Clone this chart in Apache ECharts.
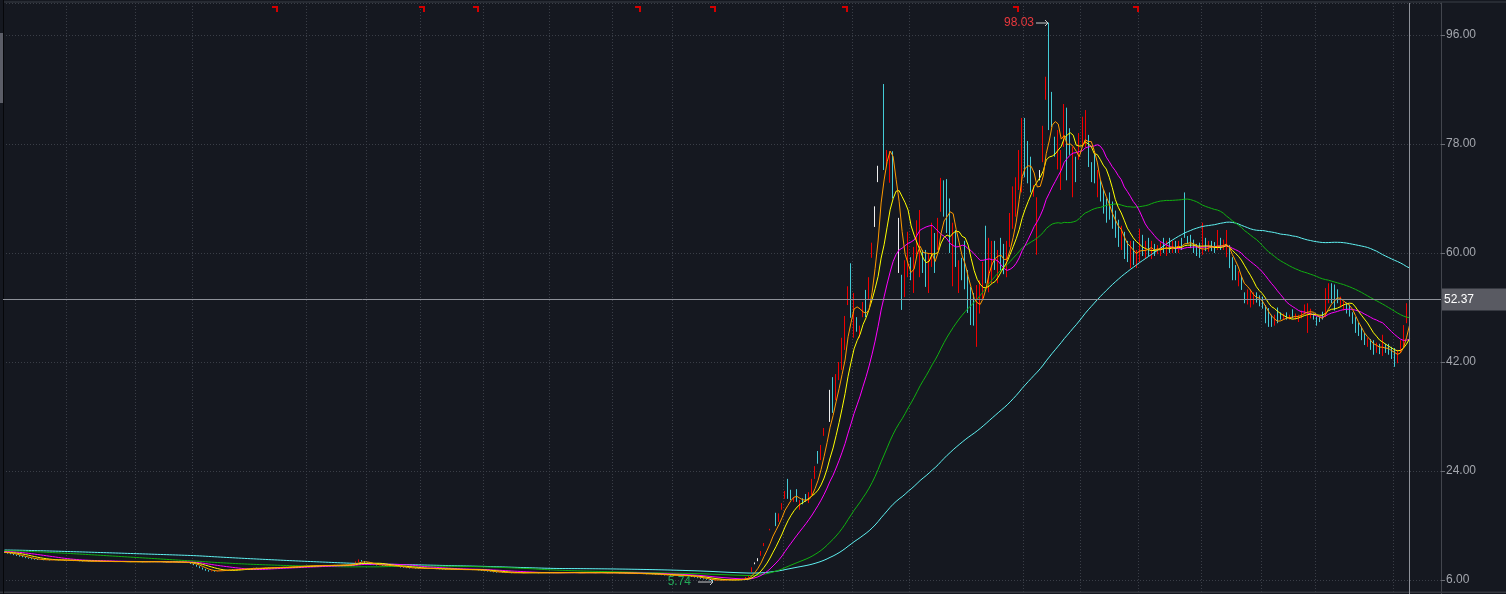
<!DOCTYPE html>
<html><head><meta charset="utf-8">
<script src="https://cdn.jsdelivr.net/npm/echarts@6/dist/echarts.min.js"></script>
<style>html,body{margin:0;padding:0;background:#151820;overflow:hidden;}#c{width:1506px;height:594px;}</style>
</head><body><div id="c"></div>
<script>
// ---- data: [open, close, low, high] ----
const flatPhase = [
[10.65,10.55,10.48,10.72],[10.55,10.40,10.35,10.60],[10.42,10.30,10.25,10.48],[10.30,10.15,10.10,10.36],[10.12,10.05,9.98,10.20],
[10.05,9.90,9.85,10.10],[9.92,9.80,9.75,9.98],[9.80,9.65,9.60,9.85],[9.66,9.55,9.50,9.70],[9.55,9.45,9.40,9.60],
[9.45,9.40,9.35,9.50],[9.40,9.35,9.30,9.45],[9.34,9.38,9.30,9.42],[9.38,9.30,9.26,9.40],[9.30,9.32,9.27,9.36],
[9.32,9.28,9.24,9.35],[9.28,9.35,9.25,9.38],[9.35,9.30,9.27,9.37],[9.30,9.25,9.22,9.33],[9.25,9.28,9.22,9.31],
[9.28,9.22,9.19,9.30],[9.22,9.25,9.20,9.28],[9.25,9.20,9.17,9.27],[9.20,9.15,9.12,9.22],[9.15,9.18,9.13,9.21],
[9.18,9.12,9.09,9.20],[9.12,9.10,9.06,9.15],[9.10,9.15,9.08,9.17],[9.15,9.08,9.05,9.16],[9.08,9.05,9.02,9.10],
[9.05,9.10,9.03,9.12],[9.10,9.12,9.07,9.15],[9.12,9.06,9.03,9.14],[9.06,9.02,8.99,9.08],[9.02,9.05,9.00,9.08],
[9.05,9.08,9.03,9.11],[9.08,9.03,9.00,9.10],[9.03,9.00,8.97,9.05],[9.00,9.04,8.98,9.07],[9.04,9.06,9.01,9.09],
[9.06,9.02,8.99,9.08],[9.02,9.00,8.96,9.04],[9.00,8.98,8.95,9.03],[8.98,9.02,8.96,9.05],[9.02,9.05,9.00,9.08],
[9.05,9.00,8.97,9.07],[9.00,8.96,8.93,9.02],[8.96,9.00,8.94,9.03],[9.00,9.04,8.98,9.07],[9.04,9.08,9.02,9.12],
[9.08,9.02,9.00,9.10],[9.02,8.98,8.95,9.04],[8.98,9.00,8.96,9.03],[9.00,8.95,8.92,9.02],[8.95,8.92,8.89,8.97],
[8.92,8.96,8.90,8.99],[8.96,9.00,8.94,9.03],[9.00,8.95,8.92,9.02],[8.95,8.90,8.87,8.97],[8.90,8.93,8.88,8.96],
[8.93,8.88,8.85,8.95],[8.88,8.85,8.80,8.90],[8.85,8.70,8.65,8.88],[8.70,8.50,8.45,8.72],[8.50,8.25,8.20,8.52],
[8.25,8.00,7.95,8.28],[8.00,7.80,7.72,8.05],[7.80,7.60,7.52,7.84],[7.60,7.45,7.38,7.64],[7.45,7.50,7.40,7.56],
[7.50,7.42,7.36,7.54],[7.42,7.55,7.40,7.58],[7.55,7.65,7.52,7.68],[7.65,7.60,7.56,7.68],[7.60,7.70,7.58,7.73],
[7.70,7.75,7.66,7.78],[7.75,7.68,7.64,7.77],[7.68,7.72,7.65,7.75],[7.72,7.80,7.70,7.83],[7.80,7.85,7.77,7.88],
[7.85,7.90,7.82,7.93],[7.90,7.88,7.84,7.93],[7.88,7.95,7.85,7.98],[7.95,8.00,7.92,8.04],[8.00,7.96,7.92,8.03],
[7.96,7.92,7.88,7.98],[7.92,8.00,7.90,8.03],[8.00,8.05,7.97,8.09],[8.05,8.02,7.98,8.07],[8.02,8.08,8.00,8.11],
[8.08,8.10,8.05,8.14],[8.10,8.05,8.02,8.12],[8.05,8.12,8.03,8.15],[8.12,8.15,8.09,8.19],[8.15,8.10,8.07,8.17],
[8.10,8.18,8.08,8.21],[8.18,8.20,8.15,8.24],[8.20,8.25,8.17,8.28],[8.25,8.30,8.22,8.33],[8.30,8.28,8.24,8.33],
[8.28,8.35,8.26,8.38],[8.35,8.32,8.28,8.37],[8.32,8.38,8.30,8.41],[8.38,8.40,8.35,8.44],[8.40,8.36,8.32,8.42],
[8.36,8.42,8.34,8.45],[8.42,8.45,8.39,8.48],[8.45,8.40,8.37,8.47],[8.40,8.38,8.34,8.43],[8.38,8.44,8.36,8.47],
[8.44,8.48,8.41,8.52],[8.48,8.42,8.39,8.50],[8.42,8.46,8.40,8.49],[8.46,8.50,8.43,8.54],[8.50,8.48,8.44,8.53],
[8.48,8.55,8.46,8.60],[8.55,8.75,8.52,8.82],[8.75,9.00,8.70,9.08],[9.00,9.25,8.95,9.40],[9.25,9.10,9.02,9.30],
[9.10,8.85,8.80,9.12],[8.85,8.65,8.60,8.88],[8.65,8.55,8.50,8.68],[8.55,8.50,8.46,8.58],[8.50,8.45,8.41,8.53],
[8.45,8.48,8.42,8.51],[8.48,8.40,8.37,8.50],[8.40,8.35,8.31,8.42],[8.35,8.38,8.32,8.41],[8.38,8.30,8.27,8.40],
[8.30,8.25,8.21,8.32],[8.25,8.20,8.16,8.27],[8.20,8.10,8.06,8.22],[8.10,8.05,8.01,8.12],[8.05,8.00,7.96,8.07],
[8.00,7.95,7.91,8.02],[7.95,7.98,7.92,8.01],[7.98,7.92,7.89,8.00],[7.92,7.90,7.86,7.95],[7.90,7.95,7.88,7.98],
[7.95,7.88,7.85,7.97],[7.88,7.85,7.81,7.90],[7.85,7.90,7.83,7.93],[7.90,7.86,7.83,7.92],[7.86,7.82,7.79,7.88],
[7.82,7.80,7.76,7.85],[7.80,7.78,7.74,7.83],[7.78,7.75,7.71,7.80],[7.75,7.80,7.73,7.83],[7.80,7.76,7.73,7.82],
[7.76,7.72,7.69,7.78],[7.72,7.70,7.66,7.75],[7.70,7.74,7.68,7.77],[7.74,7.68,7.65,7.76],[7.68,7.72,7.66,7.75],
[7.72,7.70,7.67,7.74],[7.70,7.66,7.63,7.72],[7.66,7.68,7.63,7.71],[7.68,7.62,7.58,7.70],[7.62,7.55,7.51,7.64],
[7.55,7.48,7.44,7.57],[7.48,7.42,7.38,7.50],[7.42,7.38,7.34,7.44],[7.38,7.30,7.26,7.40],[7.30,7.25,7.21,7.32],
[7.25,7.28,7.22,7.31],[7.28,7.22,7.19,7.30],[7.22,7.18,7.14,7.24],[7.18,7.20,7.15,7.23],[7.20,7.15,7.12,7.22],
[7.15,7.18,7.13,7.21],[7.18,7.22,7.16,7.25],[7.22,7.20,7.17,7.24],[7.20,7.16,7.13,7.22],[7.16,7.20,7.14,7.23],
[7.20,7.25,7.18,7.28],[7.25,7.22,7.19,7.27],[7.22,7.18,7.15,7.24],[7.18,7.14,7.11,7.20],[7.14,7.18,7.12,7.21],
[7.18,7.22,7.16,7.25],[7.22,7.26,7.20,7.29],[7.26,7.20,7.17,7.28],[7.20,7.16,7.13,7.22],[7.16,7.18,7.13,7.21],
[7.18,7.24,7.16,7.27],[7.24,7.28,7.22,7.31],[7.28,7.22,7.19,7.30],[7.22,7.18,7.15,7.24],[7.18,7.20,7.15,7.23],
[7.20,7.24,7.18,7.27],[7.24,7.20,7.17,7.26],[7.20,7.16,7.13,7.22],[7.16,7.18,7.13,7.21],[7.18,7.22,7.16,7.25],
[7.22,7.26,7.20,7.30],[7.26,7.20,7.17,7.28],[7.20,7.16,7.13,7.22],[7.16,7.20,7.14,7.23],[7.20,7.24,7.18,7.27],
[7.24,7.18,7.15,7.26],[7.18,7.14,7.11,7.20],[7.14,7.18,7.12,7.21],[7.18,7.22,7.16,7.25],[7.22,7.16,7.13,7.24],
[7.16,7.12,7.09,7.18],[7.12,7.15,7.10,7.18],[7.15,7.10,7.07,7.17],[7.10,7.08,7.04,7.12],[7.08,7.12,7.06,7.15],
[7.12,7.06,7.03,7.14],[7.06,7.02,6.98,7.08],[7.02,7.05,7.00,7.08],[7.05,7.00,6.97,7.07],[7.00,6.98,6.94,7.02],
[6.98,7.02,6.96,7.05],[7.02,6.96,6.93,7.04],[6.96,6.92,6.88,6.98],[6.92,6.88,6.84,6.94],[6.88,6.84,6.80,6.90],
[6.84,6.80,6.76,6.86],[6.80,6.82,6.77,6.85],[6.82,6.76,6.72,6.84],[6.76,6.72,6.68,6.78],[6.72,6.75,6.70,6.78],
[6.75,6.70,6.66,6.77],[6.70,6.66,6.62,6.72],[6.66,6.68,6.63,6.71],[6.68,6.62,6.58,6.70],[6.62,6.55,6.50,6.64],
[6.55,6.45,6.40,6.57],[6.45,6.35,6.30,6.47],[6.35,6.25,6.20,6.37],[6.25,6.15,6.10,6.27],[6.15,6.08,6.03,6.17],
[6.08,5.98,5.93,6.10],[5.98,5.90,5.74,6.00],[5.90,6.00,5.87,6.04],[6.00,6.05,5.97,6.09],[6.05,5.98,5.95,6.07],
[5.98,6.02,5.95,6.05],[6.02,6.06,6.00,6.09],[6.06,6.00,5.97,6.08],[6.00,6.04,5.98,6.07],[6.04,6.10,6.02,6.13],
[6.10,6.08,6.05,6.14]
];
const rallyPhase = [
[6.08,6.20,6.05,6.25],[6.20,6.45,6.15,6.50],[6.45,6.70,6.40,6.75],[7.40,8.05,7.30,8.10],[8.90,8.90,8.60,8.90],
[9.60,9.60,9.10,9.60],[10.00,10.75,10.00,10.80],[11.60,12.05,11.60,12.10],[13.10,13.10,13.10,13.10],[14.20,14.40,14.20,14.45],
[15.90,15.90,15.90,15.90],[17.00,15.60,14.90,17.10],[15.70,16.90,15.60,17.00],[17.70,18.60,17.60,18.70],[19.50,20.60,19.40,20.70],
[21.80,20.00,19.40,22.70],[20.60,19.60,19.20,20.90],[19.00,19.60,18.90,19.70],[20.70,19.20,18.90,21.00],[17.90,19.00,17.60,19.20],
[19.40,18.80,18.50,19.50],[20.00,19.20,18.90,20.20],[18.90,20.30,18.70,20.50],[20.30,22.50,20.00,22.70],[22.80,24.70,22.70,24.80],
[27.00,25.60,25.20,27.30],[26.00,28.10,25.80,28.30],[29.90,31.00,29.80,31.10],[34.00,34.00,34.00,34.00],[37.40,37.40,32.10,37.40],
[39.40,35.20,33.60,39.50],[36.00,39.50,35.70,40.00],[39.20,41.80,39.00,42.00],[41.00,45.80,40.70,46.00],[44.50,49.40,44.00,49.60],
[51.50,54.30,51.40,54.50],[57.50,51.50,49.30,58.30],[47.50,52.80,46.00,53.40],[49.20,47.50,47.00,49.40],[46.20,47.80,46.00,48.00],
[49.60,51.70,49.40,51.90],[53.50,50.50,49.40,53.90],[52.50,55.80,52.20,56.00],[59.30,61.50,59.20,61.70],[67.70,67.70,64.30,67.70],
[74.40,74.40,71.70,74.40],[81.90,81.90,81.90,81.90],[84.00,74.80,73.70,87.90]
];
const peakPhase = [
[75.0,76.5,74.5,77.0],[72.0,76.5,71.6,76.8],[76.5,70.0,69.0,76.8],[63.0,63.0,63.0,63.0],[56.7,56.7,56.7,65.8],
[56.0,51.5,50.6,56.4],[53.0,57.8,52.7,58.8],[58.0,62.0,56.0,63.5],[59.0,56.0,55.5,59.3],[54.0,59.5,53.4,61.0],
[60.0,63.5,59.3,65.4],[58.0,64.5,56.0,67.1],[60.0,57.0,56.7,60.5],[59.5,55.5,54.4,60.5],[54.5,59.0,53.4,60.0],
[59.0,63.5,57.7,65.0],[63.0,58.0,56.7,63.3],[61.0,64.5,60.5,65.8],[67.5,71.5,66.8,72.4],[71.5,69.0,66.0,72.0],
[71.0,67.0,63.3,72.2],[68.0,62.0,60.0,69.0],[58.0,63.0,54.5,65.0],[62.0,58.5,57.7,63.8],[55.0,58.0,53.4,58.8],
[58.5,56.0,55.5,59.2],[60.0,55.5,54.0,62.0],[56.5,52.5,50.1,57.2],[53.0,49.5,48.1,54.4],[52.0,49.0,48.0,53.4],
[47.5,52.5,44.5,54.7],[51.0,54.0,50.0,55.5],[53.0,57.5,52.2,58.5],[63.0,58.0,55.0,64.5],[56.0,61.0,53.5,62.5],
[57.0,60.5,55.0,62.0],[61.0,58.5,57.2,62.0],[56.5,59.5,55.0,60.5],[61.5,58.5,57.0,62.5],[60.5,57.5,56.5,61.5],
[57.0,61.0,56.0,62.0],[62.0,66.0,61.0,66.6],[65.5,70.0,64.0,71.0],[67.0,71.0,66.0,72.5],[71.0,76.0,70.4,77.0],
[74.0,80.0,70.0,82.3],[82.0,73.0,72.5,82.3],[77.0,72.0,71.5,78.5],[74.0,70.5,70.0,75.9],[69.5,70.5,69.3,71.2],
[62.0,68.5,59.7,69.2],[73.5,73.5,72.0,73.7],[75.5,80.5,75.0,81.0],[85.5,89.0,85.3,89.1],[95.0,81.0,80.3,98.03],
[86.0,81.5,80.8,86.6],[79.0,76.5,75.9,79.2],[75.0,78.5,73.8,80.3],[71.0,76.5,70.4,77.0],[78.0,84.0,77.5,84.6],
[83.5,74.0,72.0,84.0],[80.0,77.0,76.2,80.6],[70.0,76.5,69.2,77.5],[75.5,72.5,71.7,75.9],[75.8,79.5,75.4,79.8],
[78.0,82.0,77.5,82.5],[78.0,83.0,77.5,83.6],[79.5,75.0,74.2,79.5],[74.5,72.5,71.7,75.0],[75.0,72.0,71.5,76.5],
[70.5,72.5,69.2,73.7],[71.0,69.0,68.5,72.0],[70.0,67.0,66.5,70.5],[68.5,66.0,65.0,69.0]
];
const declinePhase = [
[69.0,66.0,65.5,70.0],[67.0,65.0,64.0,68.5],[66.5,63.5,62.5,67.0],[64.5,62.0,61.0,65.5],[61.5,63.0,60.5,64.5],
[63.0,60.0,59.0,63.5],[61.0,59.5,58.5,62.0],[58.5,61.0,57.5,62.0],[61.5,59.0,58.0,62.0],[58.5,60.0,57.5,60.5],
[59.0,62.0,58.5,64.0],[62.0,60.0,59.5,63.0],[59.5,61.0,59.0,62.0],[61.5,60.0,59.5,62.5],[59.5,61.5,59.0,62.0],
[61.0,60.0,59.5,61.5],[60.2,60.8,59.8,61.3],[60.0,61.0,59.5,61.8],[61.5,60.5,60.0,62.5],[60.0,61.5,59.5,62.0],
[62.0,60.5,60.0,62.5],[60.5,61.5,60.0,62.0],[61.5,60.5,60.0,62.0],[60.5,61.5,60.0,62.0],[62.0,61.0,60.5,62.5],
[69.0,63.0,62.5,70.0],[62.5,61.8,61.5,62.8],[62.8,61.2,60.8,63.0],[61.8,60.6,60.0,62.2],[61.0,60.0,59.5,61.5],
[61.0,60.2,59.2,61.7],[60.0,61.5,59.7,65.0],[62.0,60.8,60.3,62.5],[60.5,61.5,60.2,62.0],[61.5,60.8,60.3,62.0],
[61.5,60.5,60.0,61.8],[60.5,62.0,60.5,63.8],[62.0,61.0,60.5,62.5],[60.8,61.8,60.5,62.2],[61.0,62.0,59.3,63.8],
[61.0,58.0,57.5,61.3],[58.5,56.0,55.5,59.3],[57.5,56.0,55.5,58.0],[55.0,56.5,54.5,57.0],[56.0,54.5,53.9,56.2],
[53.5,52.0,51.7,53.5],[52.0,53.5,51.5,54.0],[52.5,53.0,51.0,54.0],[52.0,52.8,51.5,53.5],[53.0,52.0,51.8,53.5],
[52.5,51.5,51.2,53.0],[52.0,51.0,50.8,52.8],[51.2,49.0,48.4,51.4],[50.5,48.5,47.8,50.9],[49.5,48.2,47.8,49.8],
[48.2,49.0,48.0,49.8],[50.5,49.0,48.4,51.0],[49.8,49.2,49.0,50.2],[49.2,49.6,49.0,50.0],[49.8,49.3,49.0,50.2],
[49.2,49.5,49.0,49.8],[50.2,49.4,49.2,50.7],[49.2,49.8,49.0,50.0],[49.0,49.6,48.6,49.8],[49.2,50.2,49.2,50.5],
[50.0,51.0,49.8,51.5],[49.0,50.5,46.8,51.7],[49.5,50.2,49.2,50.8],[49.8,49.2,49.0,50.0],[49.2,48.5,48.0,49.5],
[49.2,48.8,48.6,49.5],[50.0,49.3,49.0,50.3],[49.5,53.0,49.4,54.2],[52.5,54.0,51.7,55.0],[54.5,52.5,51.7,55.0],
[54.0,51.5,50.5,54.8],[53.5,52.0,51.7,54.0],[51.5,52.5,51.0,52.8],[51.0,52.0,50.5,52.0],[51.8,50.5,50.0,51.8],
[51.0,49.8,49.5,51.5],[50.0,48.8,48.3,50.2],[49.2,47.3,46.8,49.4],[48.0,46.8,46.3,48.5],[47.5,46.0,45.6,47.8],
[46.5,45.2,44.8,46.8],[44.8,45.6,44.5,46.0],[45.5,44.5,44.0,45.8],[45.0,43.8,43.2,45.6],[43.8,44.8,43.5,45.2],
[44.5,43.6,43.3,45.0],[43.5,45.5,43.0,46.5],[44.8,43.8,43.5,45.0],[44.5,43.5,43.2,45.0],[44.0,43.0,42.5,44.5],
[43.5,42.2,41.2,44.3],[42.0,43.8,41.8,44.0],[43.8,45.0,43.5,45.6],[44.5,47.8,44.3,48.1],[48.5,51.2,48.4,51.7],
[56.0,52.37,51.9,56.5]
];
const maPeriods = [5, 10, 20, 60, 120];
const maColors = ['#ff9a00', '#ffff00', '#ff00ff', '#10b010', '#5ff2f2'];
// moving-average levels read at the left edge of the chart (history before the first visible candle)
const maLeftEdge = [10.55, 10.6, 10.7, 10.85, 10.95];
const yTickValues = [6, 24, 42, 60, 78, 96];
const lastClose = 52.37;
const monthStarts = [21, 44, 63, 101, 121, 139, 160, 182, 203, 223, 260, 283, 302, 340, 359, 378, 399, 419, 437, 463];
const infoMarks = [90, 139, 157, 211, 236, 280, 337, 377];
const highMark = { idx: 348, value: 98.03, text: '98.03' };
const lowMark = { idx: 236, value: 5.74, text: '5.74' };
const futureSlots = 10;

// ---- build ----
const UP = '#f00000', DOWN = '#43cbd6', DOJI = '#eeeeee';
const ohlc = flatPhase.concat(rallyPhase, peakPhase, declinePhase);
const n = ohlc.length;
const cats = [];
for (let i = 0; i < n + futureSlots; i++) cats.push(String(i));
const closes = ohlc.map(d => d[1]);
function movingAvg(p, seed) {
  const out = []; let s = 0;
  for (let i = 0; i < n; i++) {
    s += closes[i]; if (i >= p) s -= closes[i - p];
    const missing = Math.max(0, p - (i + 1));
    out.push(+((s + missing * seed) / p).toFixed(3));
  }
  return out;
}
const kdata = ohlc.map((d, i) => {
  const item = { value: d.slice() };
  if (d[0] === d[1]) {
    let col = DOJI;
    if (d[2] === d[3]) col = (i > 0 && closes[i - 1] > d[1]) ? DOWN : UP;
    item.itemStyle = { color: col, color0: col, borderColor: col, borderColor0: col, borderColorDoji: col };
  }
  return item;
});
const monthSet = new Set(monthStarts);
const FONT = 'Liberation Sans, Arial, sans-serif';

const chart = echarts.init(document.getElementById('c'), null, { renderer: 'canvas', devicePixelRatio: 1 });
const series = [{
  type: 'candlestick', data: kdata, barWidth: 0.01, z: 2, clip: false, silent: true,
  itemStyle: { color: UP, color0: DOWN, borderColor: UP, borderColor0: DOWN, borderColorDoji: DOJI, borderWidth: 1 }
}];
maPeriods.slice().reverse().forEach((p) => {
  const k = maPeriods.indexOf(p);
  series.push({ type: 'line', data: movingAvg(p, maLeftEdge[k]), symbol: 'none', showSymbol: false, silent: true, z: 3, clip: false,
    lineStyle: { width: 1, color: maColors[k] } });
});
series.push({
  type: 'custom', z: 6, silent: true, clip: false,
  data: infoMarks.map(i => [i, 0]), encode: { x: 0, y: 1 },
  renderItem: function (params, api) {
    const x = Math.round(api.coord([api.value(0), 0])[0]);
    return { type: 'polygon', shape: { points: [[x - 3, 6], [x + 3, 6], [x + 3, 12], [x + 1, 12], [x + 1, 8], [x - 3, 8]] },
      style: { fill: '#d40000' } };
  }
});

chart.setOption({
  backgroundColor: '#151820',
  animation: false,
  grid: { left: 3, top: 3, width: 1438, height: 686, containLabel: false, outerBoundsMode: 'none' },
  xAxis: {
    type: 'category', data: cats, boundaryGap: true,
    axisLine: { show: false }, axisTick: { show: false }, axisLabel: { show: false },
    splitLine: { show: true, interval: function (idx) { return monthSet.has(idx); },
      lineStyle: { color: '#3a3e47', type: [1, 2], width: 1 } }
  },
  yAxis: {
    type: 'value', position: 'right', min: -12, max: 101.28, interval: 18,
    axisLine: { show: true, lineStyle: { color: '#42454d' } },
    axisTick: { show: true, length: 4, lineStyle: { color: '#6b6e76' } },
    axisLabel: { color: '#a3a6ad', fontSize: 12, fontFamily: FONT, margin: 5, showMaxLabel: false,
      formatter: function (v) { return yTickValues.indexOf(Math.round(v)) >= 0 && Math.abs(v - Math.round(v)) < 1e-6 ? v.toFixed(2) : ''; } },
    splitLine: { show: true, lineStyle: { color: '#3a3e47', type: [1, 2], width: 1 } }
  },
  series: series
});

// ---- overlay: crosshair, price box, extremes ----
const pLast = chart.convertToPixel({ gridIndex: 0 }, [n - 1, lastClose]);
const pHigh = chart.convertToPixel({ gridIndex: 0 }, [highMark.idx, highMark.value]);
const pLow = chart.convertToPixel({ gridIndex: 0 }, [lowMark.idx, lowMark.value]);
const gx = Math.round(pLast[0]) + 0.5, gy = Math.round(pLast[1]) + 0.5;
const hx = Math.round(pHigh[0]), hy = Math.round(pHigh[1]) - 0.5;
const lx = Math.round(pLow[0]) + 1, ly = Math.round(pLow[1]) - 0.5;
const arrowStyle = { stroke: '#c9c9c9', lineWidth: 1, fill: null };
chart.setOption({
  graphic: [
    { type: 'line', silent: true, z: 50, shape: { x1: gx, y1: 3, x2: gx, y2: 594 }, style: { stroke: '#8e9199', lineWidth: 1 } },
    { type: 'line', silent: true, z: 50, shape: { x1: 3, y1: gy, x2: 1441, y2: gy }, style: { stroke: '#8e9199', lineWidth: 1 } },
    { type: 'rect', silent: true, z: 60, shape: { x: 1442, y: gy - 11, width: 64, height: 22 }, style: { fill: '#595a62' } },
    { type: 'text', silent: true, z: 61, x: 1444, y: gy, style: { text: lastClose.toFixed(2), fill: '#ffffff', font: '12px ' + FONT, verticalAlign: 'middle', align: 'left' } },
    { type: 'text', silent: true, z: 61, x: hx - 15, y: hy, style: { text: highMark.text, fill: '#e8383d', font: '12px ' + FONT, verticalAlign: 'middle', align: 'right' } },
    { type: 'polyline', silent: true, z: 61, shape: { points: [[hx - 13, hy + 0.5], [hx - 1, hy + 0.5]] }, style: arrowStyle },
    { type: 'polyline', silent: true, z: 61, shape: { points: [[hx - 4, hy - 2.5], [hx - 1, hy + 0.5], [hx - 4, hy + 3.5]] }, style: arrowStyle },
    { type: 'text', silent: true, z: 61, x: lx - 23, y: ly, style: { text: lowMark.text, fill: '#22a857', font: '12px ' + FONT, verticalAlign: 'middle', align: 'right' } },
    { type: 'polyline', silent: true, z: 61, shape: { points: [[lx - 16, ly + 0.5], [lx - 1, ly + 0.5]] }, style: arrowStyle },
    { type: 'polyline', silent: true, z: 61, shape: { points: [[lx - 4, ly - 2.5], [lx - 1, ly + 0.5], [lx - 4, ly + 3.5]] }, style: arrowStyle },
    { type: 'rect', silent: true, z: 40, shape: { x: 3, y: 1.5, width: 1503, height: 1 }, style: { fill: '#3b3e46' } },
    { type: 'rect', silent: true, z: 40, shape: { x: 0, y: 591.5, width: 1506, height: 1.5 }, style: { fill: '#34373e' } },
    { type: 'rect', silent: true, z: 40, shape: { x: 3, y: 0, width: 1, height: 594 }, style: { fill: '#06070a' } },
    { type: 'rect', silent: true, z: 41, shape: { x: 0, y: 33, width: 3, height: 70 }, style: { fill: '#5b5d67' } }
  ]
});
</script>
</body></html>
